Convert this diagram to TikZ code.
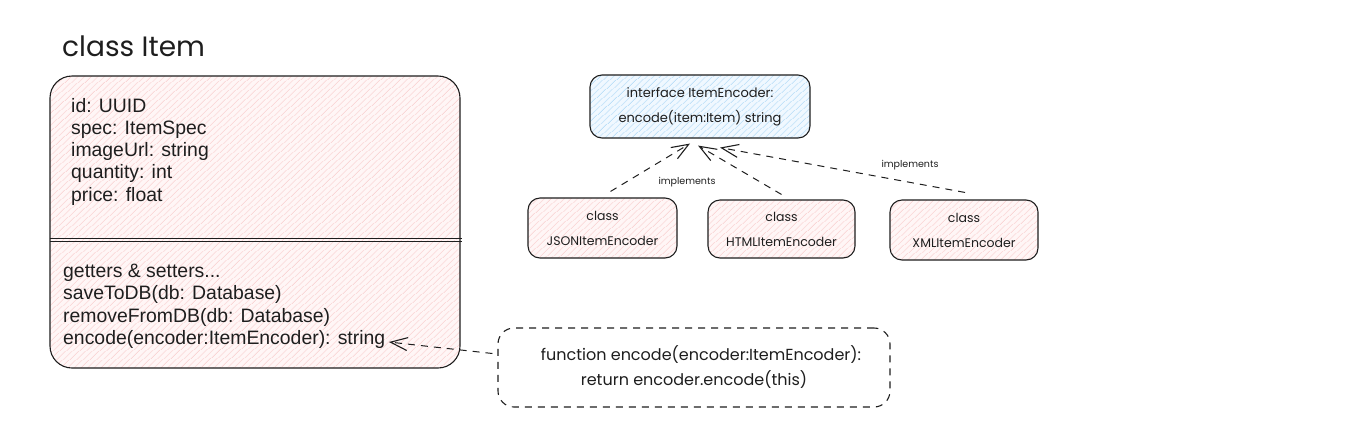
\documentclass[tikz,border=0pt]{standalone}
\usepackage{fontspec}
\setmainfont{Liberation Sans}
\newfontfamily\hand{Poppins}
\usetikzlibrary{arrows.meta,patterns.meta}
\definecolor{pinkfill}{RGB}{255,246,246}
\definecolor{pinkhatch}{RGB}{248,196,196}
\definecolor{bluefill}{RGB}{240,248,255}
\definecolor{bluehatch}{RGB}{160,210,245}
\definecolor{ink}{RGB}{30,30,30}
\begin{document}
\begin{tikzpicture}[x=1pt,y=-1pt,
  box/.style={draw=ink, line width=1.1pt, rounded corners=12pt, inner sep=0pt, align=center, text=ink},
  pinkbox/.style={box, preaction={fill=pinkfill}, pattern={Lines[angle=42,distance=4pt,line width=0.5pt]}, pattern color=pinkhatch},
  bluebox/.style={box, preaction={fill=bluefill}, pattern={Lines[angle=42,distance=4pt,line width=0.5pt]}, pattern color=bluehatch},
  hw/.style={font={\hand\fontsize{13}{25}\selectfont}},
  cls/.style={font={\hand\fontsize{12.5}{25}\selectfont}},
  attr/.style={anchor=base west, inner sep=0pt, text=ink, font={\fontsize{19.4}{22}\selectfont}},
  dep/.style={draw=ink, line width=1pt, dash pattern=on 7pt off 6pt, -{Straight Barb[length=17pt,width=13pt,line width=1.1pt]}},
  lbl/.style={inner sep=0pt, text=ink, font={\hand\fontsize{9.5}{10}\selectfont}}
]
\useasboundingbox[fill=white] (0,0) rectangle (1354,432);

% class Item
\node[anchor=base west, inner sep=0pt, text=ink, font={\hand\fontsize{28}{30}\selectfont}] (title) at (62,56) {class Item};
\node[pinkbox, rounded corners=22pt, minimum width=410pt, minimum height=292pt] (item) at (255,222) {};
\draw[ink, line width=0.9pt] ([yshift=-16.5pt]item.west) -- ([yshift=-16.5pt,xshift=2pt]item.east);
\draw[ink, line width=0.9pt] ([yshift=-19pt]item.west) -- ([yshift=-19pt,xshift=2pt]item.east);

\node[attr] (at1) at (71,112) {id: UUID};
\node[attr] (at2) at (71,134.3) {spec: ItemSpec};
\node[attr] (at3) at (71,156.6) {imageUrl: string};
\node[attr] (at4) at (71,178.9) {quantity: int};
\node[attr] (at5) at (71,201.2) {price: float};
\node[attr] (me1) at (63,277) {getters \& setters...};
\node[attr] (me2) at (63,299.6) {saveToDB(db: Database)};
\node[attr] (me3) at (63,322.2) {removeFromDB(db: Database)};
\node[attr] (me4) at (63,344.8) {encode(encoder:ItemEncoder): string};

% interface
\node[bluebox, hw, minimum width=220pt, minimum height=63pt] (iface) at (700,106.5)
  {interface ItemEncoder:\\encode(item:Item) string};

% classes
\node[pinkbox, cls, minimum width=149pt, minimum height=60pt] (json) at (602.5,228) {class\\JSONItemEncoder};
\node[pinkbox, cls, minimum width=147pt, minimum height=58pt] (html) at (781.5,229) {class\\HTMLItemEncoder};
\node[pinkbox, cls, minimum width=148pt, minimum height=60pt] (xml) at (964,230) {class\\XMLItemEncoder};

% function box
\node[box, dash pattern=on 7pt off 6pt, rounded corners=16pt, minimum width=392pt, minimum height=79pt,
  font={\hand\fontsize{16}{25}\selectfont}] (func) at (694,367.5)
  {\hspace*{14pt}function encode(encoder:ItemEncoder):\\return encoder.encode(this)};

% connectors
\draw[dep] ([xshift=8pt,yshift=6pt]json.north) -- ([xshift=-10pt,yshift=-5pt]iface.south);
\draw[dep] ([yshift=5pt]html.north) -- ([xshift=-2pt,yshift=-7pt]iface.south);
\draw[dep] ([xshift=1pt,yshift=7pt]xml.north) -- ([xshift=20pt,yshift=-9pt]iface.south);
\coordinate (enc) at (389,342);
\draw[dep] ([xshift=-5pt,yshift=14pt]func.west) -- (enc);

\node[lbl] (l1) at (687,182) {implements};
\node[lbl] (l2) at (910,165) {implements};
\end{tikzpicture}
\end{document}
